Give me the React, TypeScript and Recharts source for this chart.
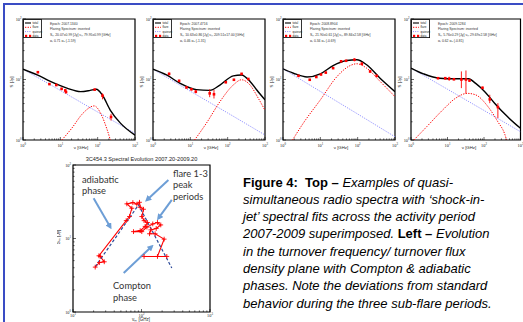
import React from "react";
import {
  ComposedChart,
  ErrorBar,
  Line,
  ReferenceArea,
  ReferenceLine,
  Scatter,
  XAxis,
  YAxis,
} from "recharts";

type Pt = [number, number];
type Obs = [number, number, number, number]; // nu, S, err low, err high

// log axis ticks (GHz / Jy)
const SPEC_X_TICKS = [1, 2, 3, 4, 5, 6, 7, 8, 9, 10, 20, 30, 40, 50, 60, 70, 80, 90, 100, 200, 300, 400, 500, 600, 700, 800, 900, 1000];
const SPEC_Y_TICKS = [1, 2, 3, 4, 5, 6, 7, 8, 9, 10, 20, 30, 40, 50, 60, 70, 80, 90, 100];
const EVOL_X_TICKS = [10, 20, 30, 40, 50, 60, 70, 80, 90, 100, 200, 300, 400, 500, 600, 700, 800, 900, 1000];
const DECADES = [1, 10, 100, 1000];
const DECADE_EXP = ["0", "1", "2", "3"];

const LEGEND_ROWS = ["total", "flare", "quiesnt", "data"];

// epoch 2007.1340
const TOTAL_A: Pt[] = [[1, 14.8], [2.4, 11.9], [5.4, 9.3], [15, 7.2], [35, 6.3], [63, 6.6], [92, 6.9], [132, 5.6], [219, 3.1], [407, 1.9], [1000, 1.2]];
const QUIET_A: Pt[] = [[1, 14.8], [10, 6.6], [100, 2.9], [1000, 1.29]];
const FLARE_A: Pt[] = [[11, 1], [20, 1.55], [40, 2.75], [81, 3.66], [126, 2.6], [178, 1.5], [219, 1]];
const OBS_A: Obs[] = [[2.5, 13.2, 0.3, 0.3], [5.1, 8.4, 0.3, 0.3], [7.8, 8.1, 0.3, 0.3], [10.8, 7.0, 0.3, 0.3], [13.6, 6.6, 0.3, 0.3], [14.2, 6.2, 0.3, 0.3], [83, 6.8, 0.2, 0.2], [135, 5.4, 0.7, 0.5], [228, 2.4, 0.3, 0.3]];
const INFO_A = ["Epoch: 2007.1340", "Flaring Spectrum: inverted", "S\u2098 20.07\u00b10.99 [Jy]  \u03bd\u2098 79.95\u00b10.99 [GHz]", "\u03b1\u209c 0.71        \u03b1\u2080 (-1.59)"];

// epoch 2007.4716
const TOTAL_B: Pt[] = [[1, 14.8], [2.3, 11.9], [5.2, 8.7], [14.5, 6.8], [33, 6.6], [62, 8.1], [141, 11.5], [234, 11.9], [398, 9.3], [603, 6.7], [1000, 4.6]];
const QUIET_B: Pt[] = [[1, 14.8], [10, 6.4], [100, 2.8], [1000, 1.21]];
const FLARE_B: Pt[] = [[13, 1], [27, 1.9], [62, 4.3], [141, 8.1], [234, 9.9], [398, 8.1], [661, 4.9], [1000, 3.1]];
const OBS_B: Obs[] = [[2.7, 12.4, 0.6, 0.6], [5, 9.5, 0.4, 0.4], [7.9, 7.4, 0.3, 0.3], [10.7, 6.9, 0.3, 0.3], [14, 6.3, 0.4, 0.4], [33, 5.9, 0.8, 1.0], [43, 5.7, 0.85, 1.05], [89, 9.0, 0.3, 0.3], [147, 9.9, 0.3, 0.3], [236, 12.4, 0.4, 0.4], [357, 10.2, 0.3, 0.3]];
const INFO_B = ["Epoch: 2007.4716", "Flaring Spectrum: inverted", "S\u2098 10.63\u00b10.86 [Jy]  \u03bd\u2098 209.51\u00b117.00 [GHz]", "\u03b1\u209c 0.46        \u03b1\u2080 (-1.31)"];

// epoch 2008.8904
const TOTAL_C: Pt[] = [[1, 15], [1.9, 12.7], [4.4, 11], [10, 12.4], [22, 17], [51, 20.6], [95, 21.2], [174, 17.5], [398, 10.5], [1000, 6.3]];
const QUIET_C: Pt[] = [[1, 15], [10, 6.35], [100, 2.69], [1000, 1.13]];
const FLARE_C: Pt[] = [[1.8, 1], [3.5, 1.9], [10, 4.6], [28, 11.2], [63, 17], [95, 18.2], [174, 15.4], [398, 9.3], [1000, 5.2]];
const OBS_C: Obs[] = [[2.6, 11.5, 0.3, 0.3], [5.2, 9.9, 0.3, 0.3], [7.8, 11, 0.3, 0.3], [10.4, 12.1, 0.3, 0.3], [14, 13, 0.3, 0.3], [22, 15.4, 0.4, 0.4], [36, 20, 0.5, 0.5], [49, 20.4, 0.5, 0.5], [82, 21.2, 1.2, 1.2], [129, 18.2, 1.0, 1.0], [216, 13.6, 0.8, 0.8], [323, 11.5, 0.4, 0.4]];
const INFO_C = ["Epoch: 2008.8904", "Flaring Spectrum: inverted", "S\u2098 21.90\u00b10.61 [Jy]  \u03bd\u2098 89.84\u00b12.58 [GHz]", "\u03b1\u209c 0.34        \u03b1\u2080 (-0.69)"];

// epoch 2009.1284
const TOTAL_D: Pt[] = [[1, 15.4], [2.2, 12.4], [6, 10.5], [16.6, 10.3], [38, 10.3], [58, 8.7], [105, 6.3], [195, 4.06], [437, 2.44], [1000, 1.56]];
const QUIET_D: Pt[] = [[1, 15.4], [10, 6.9], [100, 3.08], [1000, 1.37]];
const FLARE_D: Pt[] = [[1.2, 1], [2.7, 1.66], [7.4, 3.14], [16.6, 4.9], [35, 5.9], [58, 5.6], [129, 3.55], [240, 2.0], [363, 1.29], [417, 1]];
const OBS_D: Obs[] = [[5.5, 10.5, 0.3, 0.3], [8.7, 10.5, 0.5, 0.5], [11.1, 10.3, 0.8, 0.8], [15, 10.1, 0.4, 0.4], [24, 10, 2.8, 3.6], [32, 10, 4.1, 4.1], [40, 9.6, 0.4, 0.4], [91, 7.3, 0.3, 0.3], [144, 4.7, 0.64, 0.9], [240, 3.5, 1.2, 0.56]];
const INFO_D = ["Epoch: 2009.1284", "Flaring Spectrum: inverted", "S\u2098 5.76\u00b10.29 [Jy]  \u03bd\u2098 29.69\u00b12.58 [GHz]", "\u03b1\u209c 0.62        \u03b1\u2080 (-0.81)"];

// turnover frequency / flux evolution 2007.20-2009.20
const EVOL_NU = [21.1, 24.4, 28.6, 25, 23.9, 59.8, 66.8, 72.3, 61.1, 74.8, 85.5, 93.5, 95.7, 107, 101, 109, 122, 113, 95.7, 76.4, 101, 120, 146, 171, 191, 164, 137, 131, 158, 214, 171, 109, 234];
const EVOL_S = [4.08, 4.72, 4.82, 5.7, 5.82, 17.5, 19.9, 25.8, 29.6, 30.8, 29.3, 31.1, 26.6, 25, 19.9, 17.5, 16.5, 14.6, 12.8, 12.4, 12.4, 14.3, 15.8, 16.5, 15.3, 13.7, 13.1, 11.6, 11.6, 9.8, 5.7, 5.7, 5.7];
const TREND_NU = [21.1, 90.4, 277];
const TREND_S = [4.13, 28.6, 3.96];
const ARROWS: [Pt, Pt][] = [
  [[20, 35.3], [35, 14.3]],
  [[247, 62.5], [120, 33.5]],
  [[277, 33.5], [177, 18.9]],
  [[55, 3.4], [141, 7.8]],
];

const PANEL_LEFT = [22.7, 153.3, 282.7, 410.7];
const PANEL_WIDTH = [112, 112, 112, 109.5];
const PANELS = [
  { total: TOTAL_A, quiet: QUIET_A, flare: FLARE_A, obs: OBS_A, info: INFO_A },
  { total: TOTAL_B, quiet: QUIET_B, flare: FLARE_B, obs: OBS_B, info: INFO_B },
  { total: TOTAL_C, quiet: QUIET_C, flare: FLARE_C, obs: OBS_C, info: INFO_C },
  { total: TOTAL_D, quiet: QUIET_D, flare: FLARE_D, obs: OBS_D, info: INFO_D },
];

const RED = "#ff0000";
const ARROW_BLUE = "#6d9ed6";

function LogTick(props: any) {
  const { x, y, payload, side, fs, gap } = props;
  const i = DECADES.indexOf(payload.value);
  const major = i >= 0;
  const len = major ? 3 : 1.6;
  const label = major ? (
    <>
      10
      <tspan dy={-fs * 0.45} fontSize={fs * 0.7}>
        {DECADE_EXP[i]}
      </tspan>
    </>
  ) : null;
  if (side === "x") {
    return (
      <g>
        <line x1={x} y1={y} x2={x} y2={y - len} stroke="#000" strokeWidth={0.6} />
        {major && (
          <text x={x} y={y + gap} textAnchor="middle" fontSize={fs} fill="#222">
            {label}
          </text>
        )}
      </g>
    );
  }
  return (
    <g>
      <line x1={x} y1={y} x2={x + len} y2={y} stroke="#000" strokeWidth={0.6} />
      {major && (
        <text x={x - gap} y={y + fs * 0.35} textAnchor="end" fontSize={fs} fill="#222">
          {label}
        </text>
      )}
    </g>
  );
}

const square = (p: any) =>
  p.cx == null ? <g /> : <rect x={p.cx - 1.3} y={p.cy - 1.3} width={2.6} height={2.6} fill={RED} />;

const plus = (p: any) =>
  p.cx == null ? (
    <g key={p.key} />
  ) : (
    <path
      key={p.key}
      d={`M${p.cx - 2.4},${p.cy}H${p.cx + 2.4}M${p.cx},${p.cy - 2.4}V${p.cy + 2.4}`}
      stroke={RED}
      strokeWidth={0.9}
    />
  );

const toXY = (pts: Pt[]) => pts.map(([nu, s]) => ({ nu, s }));

function SpectrumPanel({ left, plotW, total, quiet, flare, obs, info }: any) {
  const yW = 22;
  const W = yW + plotW + 6;
  const H = 152;
  const points = obs.map(([nu, s, lo, hi]: Obs) => ({ nu, s, err: [lo, hi] }));
  return (
    <div style={{ position: "absolute", left: left - yW, top: 0, width: W, height: H }}>
      <ComposedChart width={W} height={H} margin={{ top: 19, right: 6, bottom: 0, left: 0 }}>
        <XAxis
          dataKey="nu"
          type="number"
          scale="log"
          domain={[1, 1000]}
          allowDataOverflow
          ticks={SPEC_X_TICKS}
          interval={0}
          tickSize={0}
          tickMargin={0}
          axisLine={false}
          tickLine={false}
          height={12}
          tick={(p: any) => <LogTick {...p} side="x" fs={4.3} gap={6.5} />}
        />
        <YAxis
          dataKey="s"
          type="number"
          scale="log"
          domain={[1, 100]}
          allowDataOverflow
          ticks={SPEC_Y_TICKS}
          interval={0}
          tickSize={0}
          tickMargin={0}
          axisLine={false}
          tickLine={false}
          width={yW}
          tick={(p: any) => <LogTick {...p} side="y" fs={4.3} gap={1.5} />}
        />
        <Line data={toXY(quiet)} dataKey="s" stroke="#8a8aff" strokeWidth={1} strokeDasharray="1 1.2" dot={false} isAnimationActive={false} />
        <Line data={toXY(flare)} dataKey="s" type="monotone" stroke={RED} strokeWidth={1} strokeDasharray="1.3 1.3" dot={false} isAnimationActive={false} />
        <Line data={toXY(total)} dataKey="s" type="monotone" stroke="#000" strokeWidth={1.4} dot={false} isAnimationActive={false} />
        <Scatter data={points} dataKey="s" shape={square} isAnimationActive={false}>
          <ErrorBar dataKey="err" direction="y" width={0} stroke={RED} strokeWidth={0.9} />
        </Scatter>
        <ReferenceArea x1={1} x2={1000} y1={1} y2={100} fill="none" stroke="#000" strokeWidth={1.2} ifOverflow="visible" />
      </ComposedChart>
      <svg width={W} height={H} style={{ position: "absolute", left: 0, top: 0, pointerEvents: "none" }} fontFamily="'Liberation Sans', Arial, sans-serif">
        <rect x={yW + 0.6} y={19.6} width={18} height={18} fill="#fff" stroke="#000" strokeWidth={0.8} />
        {LEGEND_ROWS.map((name, i) => {
          const ry = 23 + i * 4.3;
          return (
            <g key={name}>
              {i === 0 && <line x1={yW + 2} x2={yW + 8} y1={ry} y2={ry} stroke="#000" strokeWidth={1.1} />}
              {i === 1 && <line x1={yW + 2} x2={yW + 8} y1={ry} y2={ry} stroke={RED} strokeWidth={1} strokeDasharray="1.3 1.3" />}
              {i === 2 && <line x1={yW + 2} x2={yW + 8} y1={ry} y2={ry} stroke="#8a8aff" strokeWidth={1} strokeDasharray="1 1.2" />}
              {i === 3 && (
                <>
                  <rect x={yW + 2} y={ry - 1.1} width={2.2} height={2.2} fill={RED} />
                  <rect x={yW + 6} y={ry - 1.1} width={2.2} height={2.2} fill={RED} />
                </>
              )}
              <text x={yW + 9.5} y={ry + 1.1} fontSize={3} fill="#222">
                {name}
              </text>
            </g>
          );
        })}
        {info.map((t: string, i: number) => (
          <text key={i} x={yW + 27} y={24.5 + i * 5.7} fontSize={3.4} fill="#333">
            {t}
          </text>
        ))}
        <text x={yW - 10} y={82} fontSize={4.3} fill="#222" textAnchor="middle" transform={`rotate(-90 ${yW - 10} 82)`}>
          S [Jy]
        </text>
        <text x={yW + 58} y={149} fontSize={4.3} fill="#222" textAnchor="middle">
          {"\u03bd [GHz]"}
        </text>
      </svg>
    </div>
  );
}

function EvolutionChart() {
  const yW = 16;
  const plotW = 137;
  const W = yW + plotW + 6;
  const H = 172;
  const track = EVOL_NU.map((nu, i) => ({ nu, s: EVOL_S[i] }));
  const trend = TREND_NU.map((nu, i) => ({ nu, s: TREND_S[i] }));
  return (
    <div style={{ position: "absolute", left: 72.7 - yW, top: 150, width: W, height: H }}>
      <ComposedChart width={W} height={H} margin={{ top: 15, right: 6, bottom: 0, left: 0 }}>
        <XAxis
          dataKey="nu"
          type="number"
          scale="log"
          domain={[10, 1000]}
          allowDataOverflow
          ticks={EVOL_X_TICKS}
          interval={0}
          tickSize={0}
          tickMargin={0}
          axisLine={false}
          tickLine={false}
          height={10}
          tick={(p: any) => <LogTick {...p} side="x" fs={4.3} gap={5} />}
        />
        <YAxis
          dataKey="s"
          type="number"
          scale="log"
          domain={[1, 100]}
          allowDataOverflow
          ticks={SPEC_Y_TICKS}
          interval={0}
          tickSize={0}
          tickMargin={0}
          axisLine={false}
          tickLine={false}
          width={yW}
          tick={(p: any) => <LogTick {...p} side="y" fs={4.3} gap={2} />}
        />
        <Line data={track} dataKey="s" stroke={RED} strokeWidth={1.1} dot={plus} isAnimationActive={false} />
        <Line data={trend} dataKey="s" stroke="#2c4a9a" strokeWidth={1.2} strokeDasharray="3 2" dot={false} isAnimationActive={false} />
        {ARROWS.map(([a, b], i) => (
          <ReferenceLine
            key={i}
            segment={[{ x: a[0], y: a[1] }, { x: b[0], y: b[1] }]}
            ifOverflow="visible"
            shape={(p: any) => (
              <line x1={p.x1} y1={p.y1} x2={p.x2} y2={p.y2} stroke={ARROW_BLUE} strokeWidth={2} markerEnd="url(#arrowHead)" />
            )}
          />
        ))}
        <ReferenceArea x1={10} x2={1000} y1={1} y2={100} fill="none" stroke="#000" strokeWidth={1.2} ifOverflow="visible" />
      </ComposedChart>
      <svg width={W} height={H} style={{ position: "absolute", left: 0, top: 0, pointerEvents: "none" }}>
        <g fontFamily="'Liberation Sans', Arial, sans-serif" fill="#222">
          <text x={yW + 68.5} y={11} fontSize={5.6} textAnchor="middle">
            3C454.3 Spectral Evolution 2007.20-2009.20
          </text>
          <text x={yW - 13} y={87} fontSize={4.5} textAnchor="middle" transform={`rotate(-90 ${yW - 13} 87)`}>
            {"S\u2098  [Jy]"}
          </text>
          <text x={yW + 68} y={171} fontSize={4.5} textAnchor="middle">
            {"\u03bd\u2098  [GHz]"}
          </text>
        </g>
        <g fontFamily="Lato, 'Open Sans', sans-serif" fontSize={9.3} fill="#333">
          <text x={81.7 - 56.7} y={33}>adiabatic</text>
          <text x={81.7 - 56.7} y={44}>phase</text>
          <text x={172.7 - 56.7} y={26.5}>flare 1-3</text>
          <text x={172.7 - 56.7} y={38}>peak</text>
          <text x={172.7 - 56.7} y={49.5}>periods</text>
          <text x={112.7 - 56.7} y={139}>Compton</text>
          <text x={112.7 - 56.7} y={150.5}>phase</text>
        </g>
      </svg>
    </div>
  );
}

function Caption() {
  const b = { fontWeight: 700, fontStyle: "normal" } as const;
  return (
    <div
      style={{
        position: "absolute",
        left: 243,
        top: 173.5,
        fontFamily: "'Liberation Sans', Arial, sans-serif",
        fontSize: 13,
        lineHeight: "17.3px",
        fontStyle: "italic",
        whiteSpace: "nowrap",
        color: "#000",
      }}
    >
      <span style={b}>Figure 4:&nbsp; Top –</span> Examples of quasi-
      <br />
      simultaneous radio spectra with ‘shock-in-
      <br />
      jet’ spectral fits across the activity period
      <br />
      2007-2009 superimposed. <span style={b}>Left –</span> Evolution
      <br />
      in the turnover frequency/ turnover flux
      <br />
      density plane with Compton &amp; adiabatic
      <br />
      phases. Note the deviations from standard
      <br />
      behavior during the three sub-flare periods.
    </div>
  );
}

export default function App() {
  return (
    <div style={{ position: "absolute", left: 0, top: 0, width: 523, height: 322, overflow: "hidden", background: "#fff" }}>
      <svg width={0} height={0} style={{ position: "absolute" }}>
        <defs>
          <marker id="arrowHead" viewBox="0 0 10 10" refX="6" refY="5" markerWidth="3.2" markerHeight="3.2" orient="auto">
            <path d="M0,0 L10,5 L0,10 z" fill={ARROW_BLUE} />
          </marker>
        </defs>
      </svg>
      <div style={{ position: "absolute", left: 4, top: 3, width: 519, height: 2, background: "#3a4cc4" }} />
      <div style={{ position: "absolute", left: 3, top: 3, width: 2, height: 319, background: "#3a4cc4" }} />
      {PANELS.map((p, i) => (
        <SpectrumPanel key={i} left={PANEL_LEFT[i]} plotW={PANEL_WIDTH[i]} {...p} />
      ))}
      <EvolutionChart />
      <Caption />
    </div>
  );
}
